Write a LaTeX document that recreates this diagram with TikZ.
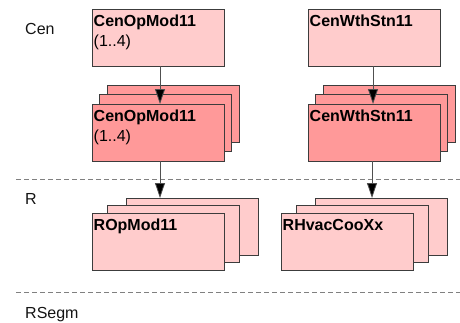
\documentclass[tikz,border=0pt]{standalone}
\usepackage{fontspec}
\setmainfont{Liberation Sans}
\usetikzlibrary{arrows.meta}
\definecolor{lightpink}{RGB}{255,204,204}
\definecolor{darkpink}{RGB}{255,153,153}
\definecolor{boxline}{RGB}{60,60,60}
\definecolor{sepgray}{RGB}{128,128,128}
\definecolor{arrgray}{RGB}{80,80,80}
\definecolor{lanetext}{RGB}{20,20,20}
\begin{document}
\begin{tikzpicture}[x=1pt,y=-1pt,
 box/.style={draw=boxline, line width=0.8pt, anchor=north west, minimum width=132pt, minimum height=57pt, inner sep=0pt, outer sep=0pt},
 light/.style={box, fill=lightpink},
 dark/.style={box, fill=darkpink},
 title/.style={anchor=base west, inner sep=0pt, font=\fontsize{16}{19}\selectfont\bfseries},
 sub/.style={anchor=base west, inner sep=0pt, font=\fontsize{16}{19}\selectfont},
 lane/.style={anchor=base west, inner sep=0pt, font=\fontsize{16}{19}\selectfont, text=lanetext},
 sep/.style={draw=sepgray, line width=0.8pt, dash pattern=on 5pt off 3pt},
 arr/.style={draw=arrgray, line width=0.8pt, -{Triangle[length=15pt,width=10pt,fill=black]}}
]
\useasboundingbox (0,0) rectangle (460,322);
% lanes
\node[lane] (cen) at (25,34) {Cen};
\node[lane] (r) at (25,204) {R};
\node[lane] (rsegm) at (25,318) {RSegm};
\coordinate (s1a) at (16,179); \coordinate (s1b) at (460,179);
\coordinate (s2a) at (16,292); \coordinate (s2b) at (460,292);
\draw[sep] (s1a) -- (s1b);
\draw[sep] (s2a) -- (s2b);
% top boxes
\node[light] (topL) at (92,9) {};
\node[light] (topR) at (308,9) {};
% middle stacks
\node[dark] (midL3) at (107,85) {};
\node[dark] (midL2) at (99.5,94.5) {};
\node[dark] (midL) at (92,104) {};
\node[dark] (midR3) at (323,85) {};
\node[dark] (midR2) at (315.5,94.5) {};
\node[dark] (midR) at (308,104) {};
% bottom stacks
\node[light] (botL3) at (126,198) {};
\node[light] (botL2) at (107,205.5) {};
\node[light] (botL) at (92,213) {};
\node[light] (botR3) at (315,198) {};
\node[light] (botR2) at (296,205.5) {};
\node[light] (botR) at (281,213) {};
% texts
\node[title] (tLt) at ([shift={(1.5,17.5)}]topL.north west) {CenOpMod11};
\node[sub] (tLs) at ([shift={(1.5,37.5)}]topL.north west) {(1..4)};
\node[title] (tRt) at ([shift={(1.5,17.5)}]topR.north west) {CenWthStn11};
\node[title] (mLt) at ([shift={(1.5,17.5)}]midL.north west) {CenOpMod11};
\node[sub] (mLs) at ([shift={(1.5,37.5)}]midL.north west) {(1..4)};
\node[title] (mRt) at ([shift={(1.5,17.5)}]midR.north west) {CenWthStn11};
\node[title] (bLt) at ([shift={(1.5,17.5)}]botL.north west) {ROpMod11};
\node[title] (bRt) at ([shift={(1.5,17.5)}]botR.north west) {RHvacCooXx};
% arrows
\draw[arr] ([xshift=2pt]topL.south) -- ([xshift=2pt]midL.north);
\draw[arr] ([xshift=-1pt]topR.south) -- ([xshift=-1pt]midR.north);
\draw[arr] ([xshift=2pt]midL.south) -- ([xshift=2pt]midL.south |- botL3.north);
\draw[arr] ([xshift=-2pt]midR.south) -- ([xshift=-2pt]midR.south |- botR3.north);
\end{tikzpicture}
\end{document}
